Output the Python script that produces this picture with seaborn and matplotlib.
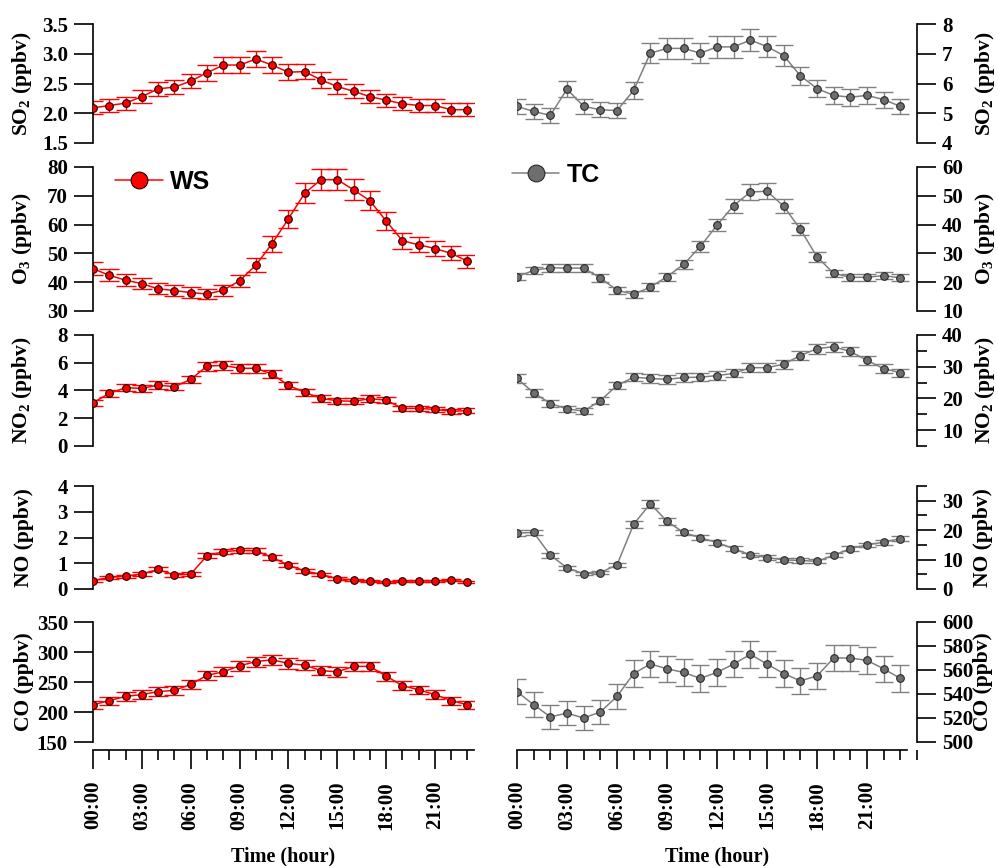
import numpy as np
import pandas as pd
import matplotlib.pyplot as plt
import seaborn as sns
from matplotlib.ticker import MultipleLocator, FormatStrFormatter

hours = list(range(24))
hour_ticks = [0, 3, 6, 9, 12, 15, 18, 21]
hour_labels = ['00:00', '03:00', '06:00', '09:00', '12:00', '15:00', '18:00', '21:00']

# WS site (red)
ws_so2 = [2.09, 2.13, 2.17, 2.28, 2.41, 2.44, 2.54, 2.68, 2.81, 2.81, 2.91, 2.81,
          2.69, 2.70, 2.56, 2.45, 2.37, 2.28, 2.22, 2.16, 2.13, 2.13, 2.06, 2.06]
ws_so2_err = [0.11, 0.11, 0.11, 0.11, 0.12, 0.12, 0.12, 0.13, 0.14, 0.14, 0.14, 0.14,
              0.13, 0.13, 0.13, 0.12, 0.12, 0.11, 0.11, 0.11, 0.11, 0.11, 0.11, 0.11]
ws_o3 = [44.7, 42.4, 40.7, 39.5, 37.7, 37.1, 36.4, 35.9, 37.2, 40.5, 45.9, 53.4,
         62.0, 70.9, 75.6, 75.6, 72.1, 68.3, 61.3, 54.4, 53.0, 51.7, 50.0, 47.3]
ws_o3_err = [2.3, 2.1, 2.0, 2.0, 1.9, 1.9, 1.9, 1.9, 1.9, 2.0, 2.4, 2.8,
             3.1, 3.5, 3.6, 3.6, 3.6, 3.4, 3.1, 2.8, 2.6, 2.5, 2.4, 2.3]
ws_no2 = [3.12, 3.79, 4.20, 4.15, 4.39, 4.27, 4.80, 5.76, 5.81, 5.60, 5.60, 5.19,
          4.37, 3.87, 3.43, 3.26, 3.22, 3.41, 3.31, 2.71, 2.71, 2.64, 2.50, 2.55]
ws_no2_err = [0.22, 0.24, 0.25, 0.25, 0.26, 0.26, 0.28, 0.32, 0.32, 0.31, 0.31, 0.29,
              0.27, 0.25, 0.23, 0.22, 0.22, 0.23, 0.23, 0.20, 0.20, 0.20, 0.19, 0.19]
ws_no = [0.32, 0.45, 0.50, 0.58, 0.76, 0.54, 0.58, 1.29, 1.45, 1.50, 1.48, 1.23,
         0.93, 0.70, 0.57, 0.40, 0.35, 0.30, 0.26, 0.30, 0.31, 0.31, 0.34, 0.27]
ws_no_err = [0.05, 0.06, 0.06, 0.07, 0.08, 0.07, 0.07, 0.10, 0.10, 0.10, 0.10, 0.09,
             0.08, 0.07, 0.06, 0.05, 0.05, 0.04, 0.04, 0.04, 0.04, 0.04, 0.04, 0.04]
ws_co = [212, 219, 226, 229, 234, 236, 246, 261, 267, 277, 284, 287,
         281, 278, 269, 267, 276, 276, 260, 244, 237, 229, 219, 212]
ws_co_err = [6.5, 6.5, 7, 7, 7, 7, 7, 7.5, 7.5, 8, 8.5, 8.5,
             8.5, 8, 8, 8, 8, 8, 7.5, 7, 7, 7, 6.5, 6.5]

# TC site (grey)
tc_so2 = [5.23, 5.06, 4.93, 5.81, 5.23, 5.12, 5.09, 5.77, 7.02, 7.18, 7.18, 7.02,
          7.23, 7.23, 7.46, 7.24, 6.94, 6.26, 5.83, 5.60, 5.54, 5.60, 5.46, 5.23]
tc_so2_err = [0.26, 0.26, 0.25, 0.28, 0.26, 0.25, 0.25, 0.28, 0.34, 0.36, 0.36, 0.34,
              0.36, 0.36, 0.37, 0.36, 0.34, 0.31, 0.29, 0.28, 0.28, 0.28, 0.27, 0.26]
tc_o3 = [21.9, 24.1, 25.0, 24.9, 24.9, 21.5, 17.2, 15.8, 18.3, 21.9, 26.2, 32.4,
         39.8, 46.6, 51.3, 51.6, 46.4, 38.4, 28.8, 23.1, 21.7, 21.7, 22.3, 21.5]
tc_o3_err = [1.2, 1.3, 1.4, 1.4, 1.4, 1.3, 1.2, 1.2, 1.3, 1.4, 1.6, 1.9,
             2.1, 2.4, 2.7, 2.7, 2.4, 2.1, 1.7, 1.3, 1.2, 1.2, 1.2, 1.2]
tc_no2 = [26.3, 21.8, 18.4, 16.7, 16.0, 19.3, 24.1, 26.7, 26.3, 26.0, 26.6, 26.7,
          27.2, 27.9, 29.7, 29.7, 30.8, 33.5, 35.7, 36.3, 34.8, 32.0, 29.4, 28.1]
tc_no2_err = [1.3, 1.2, 1.1, 1.0, 1.0, 1.1, 1.2, 1.3, 1.3, 1.3, 1.3, 1.3,
              1.3, 1.3, 1.4, 1.4, 1.4, 1.5, 1.6, 1.6, 1.5, 1.4, 1.4, 1.3]
tc_no = [19.0, 19.2, 11.5, 7.2, 5.2, 5.6, 8.2, 22.0, 29.0, 23.0, 19.2, 17.4,
         15.8, 13.7, 11.6, 10.7, 9.9, 9.7, 9.4, 11.5, 13.7, 15.0, 15.9, 17.1]
tc_no_err = [1.0, 1.0, 0.8, 0.7, 0.6, 0.6, 0.8, 1.2, 1.4, 1.2, 1.0, 0.9,
             0.8, 0.8, 0.7, 0.7, 0.7, 0.7, 0.7, 0.7, 0.8, 0.8, 0.9, 0.9]
tc_co = [542, 531, 521, 524, 520, 525, 538, 557, 565, 561, 558, 553,
         558, 565, 573, 565, 557, 551, 555, 570, 570, 568, 561, 553]
tc_co_err = [10.5, 10.5, 10, 10, 10, 10, 10.5, 11, 11, 11, 11, 11,
             11, 11, 11, 11, 11, 11, 11, 11, 11, 11, 11, 11]

ws = pd.DataFrame({'hour': hours, 'SO2': ws_so2, 'O3': ws_o3, 'NO2': ws_no2, 'NO': ws_no, 'CO': ws_co})
tc = pd.DataFrame({'hour': hours, 'SO2': tc_so2, 'O3': tc_o3, 'NO2': tc_no2, 'NO': tc_no, 'CO': tc_co})
ws_err = {'SO2': ws_so2_err, 'O3': ws_o3_err, 'NO2': ws_no2_err, 'NO': ws_no_err, 'CO': ws_co_err}
tc_err = {'SO2': tc_so2_err, 'O3': tc_o3_err, 'NO2': tc_no2_err, 'NO': tc_no_err, 'CO': tc_co_err}

ylabels = {'SO2': 'SO$_2$ (ppbv)', 'O3': 'O$_3$ (ppbv)', 'NO2': 'NO$_2$ (ppbv)',
           'NO': 'NO (ppbv)', 'CO': 'CO (ppbv)'}
# (ylim, major step, minor step, format) for each side
ws_axis = {'SO2': ((1.5, 3.5), 0.5, None, '%.1f'), 'O3': ((30, 80), 10, None, '%d'),
           'NO2': ((0, 8), 2, None, '%d'), 'NO': ((0, 4), 1, None, '%d'),
           'CO': ((150, 350), 50, None, '%d')}
tc_axis = {'SO2': ((4, 8), 1, None, '%d'), 'O3': ((10, 60), 10, None, '%d'),
           'NO2': ((5, 40), 10, 5, '%d'), 'NO': ((0, 35), 10, 5, '%d'),
           'CO': ((500, 600), 20, None, '%d')}

sns.set_theme(style='ticks', rc={'axes.edgecolor': 'black', 'text.color': 'black',
                                 'xtick.color': 'black', 'ytick.color': 'black',
                                 'axes.labelcolor': 'black'})
plt.rcParams['font.family'] = ['Liberation Serif', 'DejaVu Serif']
plt.rcParams['font.weight'] = 'bold'
plt.rcParams['axes.labelweight'] = 'bold'
plt.rcParams['mathtext.default'] = 'regular'

W, H = 998, 866
fig = plt.figure(figsize=(W / 100, H / 100), dpi=100)
rows = [(24, 143), (167, 311), (335, 446), (486, 589), (622, 742)]
species = ['SO2', 'O3', 'NO2', 'NO', 'CO']


def draw(ax, df, col, err, line_c, face_c, edge_c, cap, label=None):
    ax.errorbar(df['hour'], df[col], yerr=err, fmt='none', ecolor=line_c,
                elinewidth=1, capsize=cap, capthick=1, zorder=2)
    sns.lineplot(data=df, x='hour', y=col, ax=ax, color=line_c, lw=1.1,
                 marker='o', markersize=5.5, markerfacecolor=face_c,
                 markeredgecolor=edge_c, markeredgewidth=0.8, zorder=3,
                 label=label, legend=False)


def style_y(ax, spec):
    lim, major, minor, fmt = spec
    ax.set_ylim(*lim)
    ax.yaxis.set_major_locator(MultipleLocator(major))
    ax.yaxis.set_major_formatter(FormatStrFormatter(fmt))
    if minor:
        ax.yaxis.set_minor_locator(MultipleLocator(minor))
    ax.tick_params(axis='y', which='major', direction='out', length=14, width=1.2,
                   labelsize=15, pad=4)
    ax.tick_params(axis='y', which='minor', direction='out', length=7, width=1.2)


for i, (sp, (top, bot)) in enumerate(zip(species, rows)):
    y0 = 1 - bot / H
    h = (bot - top) / H
    axl = fig.add_axes([93 / W, y0, 381 / W, h])
    axr = fig.add_axes([517 / W, y0, 400 / W, h])

    draw(axl, ws, sp, ws_err[sp], '#ff0000', '#ff0000', '#1a0000', 7.5,
         label='WS' if sp == 'O3' else None)
    draw(axr, tc, sp, tc_err[sp], '#808080', '#6e6e6e', '#2a2a2a', 6.5,
         label='TC' if sp == 'O3' else None)

    axl.set_xlim(0, 23.4)
    axr.set_xlim(0, 24)
    for ax in (axl, axr):
        for s in ax.spines.values():
            s.set_visible(False)
            s.set_linewidth(1.2)
        ax.set_xlabel('')
    axl.spines['left'].set_visible(True)
    axr.spines['right'].set_visible(True)
    axr.yaxis.tick_right()
    axr.yaxis.set_label_position('right')

    style_y(axl, ws_axis[sp])
    style_y(axr, tc_axis[sp])
    axl.set_ylabel(ylabels[sp], fontsize=15.5, fontweight='bold')
    axr.set_ylabel(ylabels[sp], fontsize=15.5, fontweight='bold')
    axl.yaxis.set_label_coords(-0.155, 0.5)
    axr.yaxis.set_label_coords(1.14, 0.5)

    if sp == 'CO':
        for ax in (axl, axr):
            ax.spines['bottom'].set_visible(True)
            ax.spines['bottom'].set_position(('outward', 6))
            ax.set_xticks(hour_ticks)
            ax.set_xticklabels(hour_labels, rotation=90)
            ax.xaxis.set_minor_locator(MultipleLocator(1))
            ax.tick_params(axis='x', which='major', direction='out', length=14,
                           width=1.2, labelsize=15, pad=8)
            ax.tick_params(axis='x', which='minor', direction='out', length=7, width=1.2)
            ax.set_xlabel('Time (hour)', fontsize=14.5, fontweight='bold')
            ax.xaxis.set_label_coords(0.5, -0.87)
        axr.spines['bottom'].set_bounds(0, 23.4)
    else:
        for ax in (axl, axr):
            ax.set_xticks([])
            ax.tick_params(axis='x', which='both', bottom=False, labelbottom=False)

    if sp == 'O3':
        leg_font = {'family': 'Liberation Sans', 'weight': 'bold', 'size': 18}
        axl.legend(loc='center left', bbox_to_anchor=(115 / W, 1 - 182 / H),
                   bbox_transform=fig.transFigure, frameon=False, markerscale=2.2,
                   handlelength=1.9, handletextpad=0.3, borderpad=0, borderaxespad=0,
                   prop=leg_font)
        axr.legend(loc='center left', bbox_to_anchor=(512 / W, 1 - 175 / H),
                   bbox_transform=fig.transFigure, frameon=False, markerscale=2.2,
                   handlelength=1.9, handletextpad=0.3, borderpad=0, borderaxespad=0,
                   prop=leg_font)

fig.savefig('out.png', dpi=100)
